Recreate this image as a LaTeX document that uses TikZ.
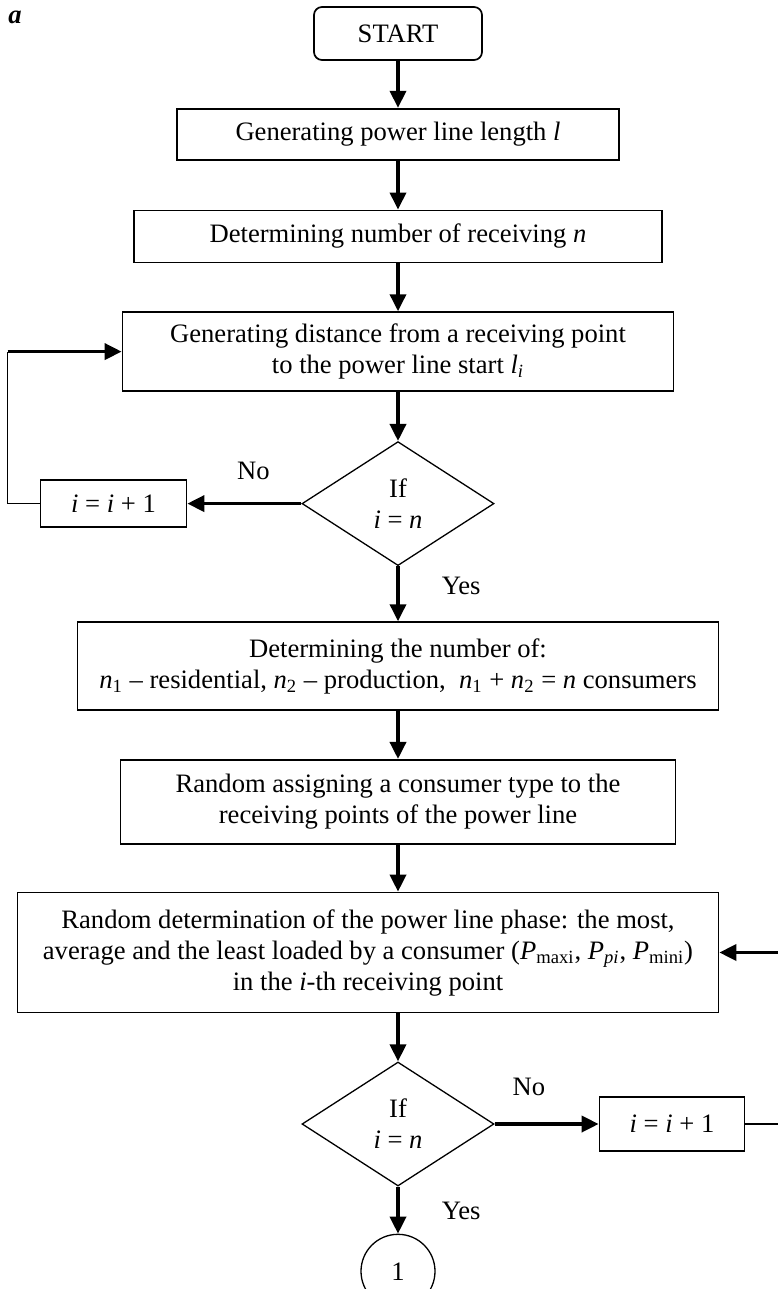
\documentclass[tikz,border=0pt]{standalone}
\usepackage{fontspec}
\setmainfont{Liberation Serif}
\usepackage{tikz}
\usetikzlibrary{arrows.meta,calc,positioning,shapes.geometric}
\tikzset{every picture/.style={
  >={Triangle[length=8.5pt,width=8pt]}    % Filled triangle arrows.
  }
}

\begin{document}
\begin{tikzpicture}[
    font=\fontsize{13.3}{15.5}\selectfont,
    blk/.style={
      rectangle,
      draw,
      line width=0.85pt,
      inner sep=0pt,
      align=center,
      minimum width=#1
    },
    term/.style={
      rectangle,
      rounded corners=4pt,
      draw,
      line width=0.85pt,
      minimum width=84pt,
      minimum height=26.5pt
    },
    test/.style={
      diamond,
      draw,
      line width=0.65pt,
      inner sep=0pt,
      minimum width=96pt,
      minimum height=62pt,
      align=center
    },
    flow/.style={->,line width=1.8pt},
    ret/.style={line width=0.65pt},
    lbl/.style={inner sep=0pt}
  ]

    \useasboundingbox (0,0) rectangle (388.5pt,-644.5pt);

    \node[lbl,font=\fontsize{13.3}{15.5}\selectfont\bfseries\itshape]
      (tag) at (7.5pt,-8.5pt) {a};

    % Draw the main column of steps.
    \node[term] (start) at (199pt,-16.75pt) {START};
    \node[blk=221pt,minimum height=25.5pt,below=23.5pt of start] (len)
      {Generating power line length \textit{l}};
    \node[blk=264pt,minimum height=26pt,below=24.5pt of len] (num)
      {Determining number of receiving \textit{n}};
    \node[blk=275.5pt,minimum height=39.5pt,below=24pt of num] (dist)
      {Generating distance from a receiving point\\
       to the power line start \textit{l}\textsubscript{\textit{i}}};
    \node[test,below=24.5pt of dist] (if1) {If\\ \textit{i} = \textit{n}};
    \node[blk=320.5pt,minimum height=44pt,below=27.5pt of if1] (kind)
      {Determining the number of:\\
       \textit{n}\textsubscript{1} -- residential,
       \textit{n}\textsubscript{2} -- production,\ \
       \textit{n}\textsubscript{1} + \textit{n}\textsubscript{2}
       = \textit{n} consumers};
    \node[blk=277.5pt,minimum height=42pt,below=24pt of kind] (type)
      {Random assigning a consumer type to the\\
       receiving points of the power line};
    \node[blk=350.5pt,minimum height=60pt,below=23.5pt of type,
      xshift=-15pt] (phase)
      {Random determination of the power line phase: the most,\\
       average and the least loaded by a consumer
       (\textit{P}\textsubscript{maxi}, \textit{P}\textsubscript{\textit{pi}},
       \textit{P}\textsubscript{mini})\\
       in the \textit{i}-th receiving point};
    \node[test,below=24pt of phase,xshift=15pt] (if2)
      {If\\ \textit{i} = \textit{n}};
    \node[circle,draw,line width=0.65pt,inner sep=0pt,minimum size=37pt,
      below=23.5pt of if2] (con) {1};

    % Counter boxes beside the two tests.
    \node[blk=73pt,minimum height=23.5pt,left=57pt of if1] (inc1)
      {\textit{i} = \textit{i} + 1};
    \node[blk=72.5pt,minimum height=27pt,right=52pt of if2] (inc2)
      {\textit{i} = \textit{i} + 1};

    % Link the steps of the main column.
    \foreach \a/\b in {start/len,len/num,num/dist,dist/if1,kind/type} {
      \draw[flow] (\a) -- (\b);
    }
    \draw[flow] (if1) -- node[lbl,pos=.36,right=21pt] {Yes} (kind);
    \draw[flow] (type.south) -- (type.south |- phase.north);
    \draw[flow] (phase.south -| if2) -- (if2.north);
    \draw[flow] (if2) -- node[lbl,pos=.51,right=21pt] {Yes} (con);

    % The two loops back.
    \draw[flow] (if1) -- node[lbl,pos=.42,above=11pt] {No} (inc1);
    \path (dist.west) ++(-57pt,0) coordinate (lc);
    \draw[ret] (inc1.west) -| (lc);
    \draw[flow] (lc) -- (dist.west);

    \draw[flow] (if2) -- node[lbl,pos=.33,above=13pt] {No} (inc2);
    \path (phase.east) ++(29.5pt,0) coordinate (rc);
    \draw[ret] (inc2.east) -| (rc);
    \draw[flow] (rc) -- (phase.east);
  \end{tikzpicture}
\end{document}
